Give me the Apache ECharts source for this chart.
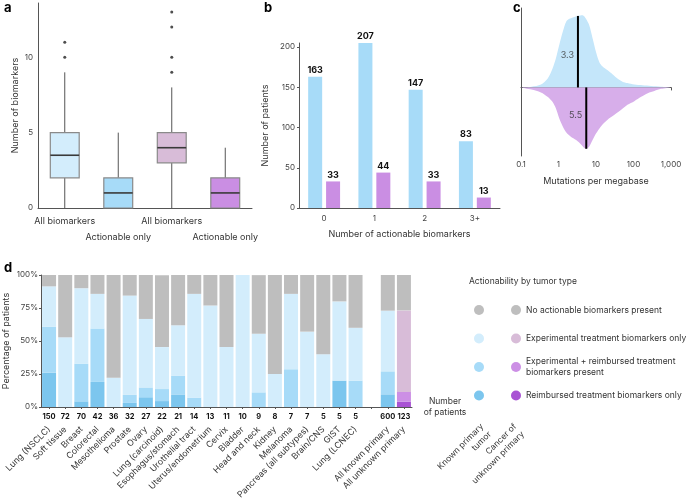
<!DOCTYPE html>
<html>
<head>
<meta charset="utf-8">
<script src="https://cdn.jsdelivr.net/npm/echarts@6/dist/echarts.min.js"></script>
<style>
  html, body { margin: 0; padding: 0; background: #fff; }
  #chart { width: 692px; height: 499px; }
</style>
</head>
<body>
<div id="chart"></div>
<script>
// a: biomarkers per patient, known primary vs cancer of unknown primary
const boxLabels = ['All biomarkers', 'Actionable only', 'All biomarkers', 'Actionable only']
// [min, q1, median, q3, max]
const boxStats = [
  [0, 2, 3.5, 5, 9],
  [0, 0, 1, 2, 5],
  [0, 3, 4, 5, 8],
  [0, 0, 1, 2, 4]
]
const boxOutliers = [[0, 10], [0, 11], [2, 9], [2, 10], [2, 12], [2, 13]]
const boxColors = ['#d3edfc', '#a7dbf8', '#d8bcd8', '#ca8ee3']

// b: patients by number of actionable biomarkers
const actionableGroups = ['0', '1', '2', '3+']
const knownPatients = [163, 207, 147, 83]
const unknownPatients = [33, 44, 33, 13]

// c: tumor mutational burden density
const tmbKnown = [0.1, 0.19, 0.34, 0.51, 0.69, 0.85, 1.05, 1.3, 1.6, 1.95, 2.4, 3.2, 4.4, 5.4, 6.6, 8.1, 10, 12.3, 15, 20, 28, 38, 51, 69, 105, 175, 295, 540, 1000]
const densityKnown = [0, 0.01, 0.04, 0.12, 0.26, 0.40, 0.59, 0.77, 0.91, 0.95, 0.97, 0.99, 1.0, 0.95, 0.86, 0.68, 0.49, 0.35, 0.29, 0.24, 0.18, 0.12, 0.08, 0.06, 0.04, 0.03, 0.02, 0.01, 0]
const tmbUnknown = [0.1, 0.19, 0.34, 0.51, 0.69, 0.85, 1.05, 1.3, 1.6, 2.1, 2.95, 4.0, 5.4, 6.6, 8.1, 10, 13.5, 20, 31, 47, 69, 105, 160, 240, 360, 540, 1000]
const densityUnknown = [0, 0.03, 0.07, 0.13, 0.20, 0.29, 0.43, 0.54, 0.62, 0.68, 0.73, 0.79, 0.85, 0.82, 0.73, 0.64, 0.54, 0.45, 0.38, 0.31, 0.24, 0.19, 0.13, 0.08, 0.05, 0.02, 0]
const tmbMedians = [3.3, 5.5]

// d: actionability by tumor type (% of patients)
const tumorTypes = ['Lung (NSCLC)', 'Soft tissue', 'Breast', 'Colorectal', 'Mesothelioma', 'Prostate', 'Ovary',
  'Lung (carcinoid)', 'Esophagus/stomach', 'Urothelial tract', 'Uterus/endometrium', 'Cervix', 'Bladder',
  'Head and neck', 'Kidney', 'Melanoma', 'Pancreas (all subtypes)', 'Brain/CNS', 'GIST', 'Lung (LCNEC)']
const tumorCounts = [150, 72, 70, 42, 36, 32, 27, 22, 21, 14, 13, 11, 10, 9, 8, 7, 7, 5, 5, 5]
const reimbursedOnly = [26, 0, 4.3, 19, 0, 3.1, 7.4, 4.5, 9.5, 0, 0, 0, 0, 0, 0, 0, 0, 0, 20, 0]
const expAndReimbursed = [34.7, 0, 28.6, 40.5, 0, 6.3, 7.4, 9.1, 14.3, 7.1, 0, 0, 0, 11.1, 0, 28.6, 0, 0, 0, 20]
const experimentalOnly = [30.7, 52.8, 57.1, 26.2, 22.2, 75, 51.9, 31.8, 38.1, 78.6, 76.9, 45.5, 100, 44.4, 25, 57.1, 57.1, 40, 60, 40]
const noActionable = [8.7, 47.2, 10, 14.3, 77.8, 15.6, 33.3, 54.5, 38.1, 14.3, 23.1, 54.5, 0, 44.4, 75, 14.3, 42.9, 60, 20, 40]
const pooledGroups = ['All known primary', 'All unknown primary']
const pooledCounts = [600, 123]
// reimbursed only, experimental + reimbursed, experimental only, none
const knownPrimaryShares = [9.6, 17.4, 46, 27]
const unknownPrimaryShares = [4.1, 7.3, 61.8, 26.8]
const legendNames = ['Reimbursed treatment biomarkers only', 'Experimental + reimbursed treatment biomarkers present',
  'Experimental treatment biomarkers only', 'No actionable biomarkers present']
const knownColors = ['#7cc6ee', '#a7dbf8', '#d3edfc', '#bebebe']
const unknownColors = ['#a953d4', '#cc8fe5', '#d8bcd8', '#bebebe']

const FONT = 'Inter, "Noto Sans", sans-serif'
const AX = '#555'
const TXT = '#333'

const chart = echarts.init(document.getElementById('chart'))

const categories = tumorTypes.concat([''], pooledGroups)
const countLabels = tumorCounts.concat([''], pooledCounts)
const knownSegs = [reimbursedOnly, expAndReimbursed, experimentalOnly, noActionable]

const stackSeries = []
knownSegs.forEach((seg, k) => {
  stackSeries.push({
    name: 'Known primary: ' + legendNames[k],
    type: 'bar', xAxisIndex: 3, yAxisIndex: 3, stack: 'd', barWidth: 14,
    itemStyle: { color: knownColors[k] },
    data: seg.concat(['-', knownPrimaryShares[k], '-'])
  })
})
unknownPrimaryShares.forEach((v, k) => {
  stackSeries.push({
    name: legendNames[k],
    type: 'bar', xAxisIndex: 3, yAxisIndex: 3, stack: 'd', barWidth: 14,
    itemStyle: { color: unknownColors[k] },
    data: tumorTypes.map(() => '-').concat(['-', '-', v])
  })
})

const legendOrder = [3, 2, 1, 0]
const axisBase = {
  nameMoveOverlap: false,
  axisLine: { lineStyle: { color: AX, width: 1 } },
  axisTick: { show: false },
  splitLine: { show: false },
  axisLabel: { color: '#444', fontFamily: FONT, fontSize: 8 },
  nameTextStyle: { color: TXT, fontFamily: FONT, fontSize: 9 }
}
const gridBase = { containLabel: false, outerBoundsMode: 'none' }

const option = {
  animation: false,
  textStyle: { fontFamily: FONT },
  title: [
    { text: 'a', left: -1, top: -3, textStyle: { fontSize: 13, fontWeight: 'bold', color: '#000', fontFamily: FONT } },
    { text: 'b', left: 259, top: -3, textStyle: { fontSize: 13, fontWeight: 'bold', color: '#000', fontFamily: FONT } },
    { text: 'c', left: 508, top: -3, textStyle: { fontSize: 13, fontWeight: 'bold', color: '#000', fontFamily: FONT } },
    { text: 'd', left: -1, top: 257, textStyle: { fontSize: 13, fontWeight: 'bold', color: '#000', fontFamily: FONT } },
    { text: 'Actionability by tumor type', left: 464, top: 272, textStyle: { fontSize: 8.5, fontWeight: 'normal', color: TXT, fontFamily: FONT } }
  ],
  legend: [
    {
      orient: 'vertical', left: 469, top: 293, icon: 'circle', itemWidth: 10, itemHeight: 10, itemGap: 4.5,
      selectedMode: false,
      formatter: () => ' ',
      textStyle: { fontSize: 8.5, lineHeight: 11, padding: [6.5, 0, 6.5, 0] },
      data: legendOrder.map(k => ({ name: 'Known primary: ' + legendNames[k] }))
    },
    {
      orient: 'vertical', left: 506, top: 293, icon: 'circle', itemWidth: 10, itemHeight: 10, itemGap: 4.5,
      selectedMode: false,
      formatter: name => name === legendNames[1] ? 'Experimental + reimbursed treatment\nbiomarkers present' : name,
      textStyle: { fontSize: 8.5, lineHeight: 11, color: TXT, fontFamily: FONT },
      data: legendOrder.map(k => ({
        name: legendNames[k],
        textStyle: { padding: k === 1 ? [1, 0, 1, 0] : [6.5, 0, 6.5, 0] }
      }))
    }
  ],
  graphic: [
    { type: 'text', x: 486, y: 429, rotation: Math.PI / 4,
      style: { text: 'Known primary\ntumor', align: 'right', verticalAlign: 'middle', font: '8.5px ' + FONT, fill: TXT, lineHeight: 11 } },
    { type: 'text', x: 519, y: 429, rotation: Math.PI / 4,
      style: { text: 'Cancer of\nunknown primary', align: 'right', verticalAlign: 'middle', font: '8.5px ' + FONT, fill: TXT, lineHeight: 11 } }
  ],
  grid: [
    Object.assign({ left: 38, top: 3, width: 214, height: 205 }, gridBase),
    Object.assign({ left: 299, top: 43, width: 201, height: 165 }, gridBase),
    Object.assign({ left: 521, top: 8, width: 150, height: 148 }, gridBase),
    Object.assign({ left: 41, top: 275, width: 371, height: 132 }, gridBase)
  ],
  xAxis: [
    Object.assign({}, axisBase, {
      gridIndex: 0, type: 'category', data: boxLabels,
      axisLabel: { color: TXT, fontFamily: FONT, fontSize: 9, margin: 5, lineHeight: 16, interval: 0,
        formatter: (v, i) => (i % 2 ? '\n' + v : v) }
    }),
    Object.assign({}, axisBase, {
      gridIndex: 1, type: 'category', data: actionableGroups,
      name: 'Number of actionable biomarkers', nameLocation: 'middle', nameGap: 22,
      axisLabel: { color: '#444', fontFamily: FONT, fontSize: 8, margin: 7 }
    }),
    Object.assign({}, axisBase, {
      gridIndex: 2, type: 'log', logBase: 10, min: 0.1, max: 1000,
      name: 'Mutations per megabase', nameLocation: 'middle', nameGap: 21,
      axisTick: { show: true, length: 3, lineStyle: { color: AX } },
      minorTick: { show: false },
      axisLabel: { color: '#444', fontFamily: FONT, fontSize: 8, margin: 5,
        formatter: v => (v >= 1000 ? '1,000' : String(+v.toPrecision(3))) }
    }),
    Object.assign({}, axisBase, {
      gridIndex: 3, type: 'category', data: categories,
      name: 'Number\nof patients', nameLocation: 'end', nameGap: 33,
      nameTextStyle: { color: TXT, fontFamily: FONT, fontSize: 8.5, align: 'center', verticalAlign: 'middle', lineHeight: 11 },
      axisTick: { show: true, length: 2, alignWithLabel: true, lineStyle: { color: AX } },
      axisLabel: { interval: 0, color: '#111', fontFamily: FONT, fontSize: 7.5, fontWeight: 'bold', margin: 6,
        formatter: (v, i) => String(countLabels[i]) }
    }),
    {
      gridIndex: 3, type: 'category', data: categories, position: 'bottom',
      axisLine: { show: false }, axisTick: { show: false }, splitLine: { show: false },
      axisLabel: { interval: 0, rotate: 45, color: TXT, fontFamily: FONT, fontSize: 8.7, margin: 21 }
    }
  ],
  yAxis: [
    Object.assign({}, axisBase, {
      gridIndex: 0, type: 'value', min: 0, max: 13.6, interval: 5,
      name: 'Number of biomarkers', nameLocation: 'middle', nameGap: 18.5,
      axisLine: { show: true, lineStyle: { color: AX } },
      axisLabel: { color: '#444', fontFamily: FONT, fontSize: 8, margin: 5, showMaxLabel: false }
    }),
    Object.assign({}, axisBase, {
      gridIndex: 1, type: 'value', min: 0, max: 205, interval: 50,
      name: 'Number of patients', nameLocation: 'middle', nameGap: 29.5,
      axisLine: { show: true, lineStyle: { color: AX } },
      axisTick: { show: true, length: 2, lineStyle: { color: AX } },
      axisLabel: { color: '#444', fontFamily: FONT, fontSize: 8, margin: 4, showMaxLabel: false }
    }),
    Object.assign({}, axisBase, {
      gridIndex: 2, type: 'value', min: -0.95, max: 1.1,
      axisLine: { show: true, lineStyle: { color: AX } },
      axisLabel: { show: false }
    }),
    Object.assign({}, axisBase, {
      gridIndex: 3, type: 'value', min: 0, max: 100, interval: 25,
      name: 'Percentage of patients', nameLocation: 'middle', nameGap: 30.5,
      axisLine: { show: true, lineStyle: { color: AX } },
      axisTick: { show: true, length: 2, lineStyle: { color: AX } },
      axisLabel: { color: '#444', fontFamily: FONT, fontSize: 8, margin: 3, formatter: '{value}%' }
    })
  ],
  series: [
    {
      type: 'custom', xAxisIndex: 0, yAxisIndex: 0,
      data: boxStats.map((s, i) => [i].concat(s)),
      renderItem: (params, api) => {
        const x = api.value(0)
        const lo = api.coord([x, api.value(1)])
        const q1 = api.coord([x, api.value(2)])
        const md = api.coord([x, api.value(3)])
        const q3 = api.coord([x, api.value(4)])
        const hi = api.coord([x, api.value(5)])
        const half = api.size([1, 0])[0] * 0.27
        const ws = { stroke: '#555', lineWidth: 1 }
        return {
          type: 'group',
          children: [
            { type: 'line', shape: { x1: lo[0], y1: lo[1], x2: q1[0], y2: q1[1] }, style: ws },
            { type: 'line', shape: { x1: q3[0], y1: q3[1], x2: hi[0], y2: hi[1] }, style: ws },
            { type: 'rect', shape: { x: q3[0] - half, y: q3[1], width: half * 2, height: q1[1] - q3[1] },
              style: { fill: boxColors[params.dataIndex], stroke: '#8a8a8a', lineWidth: 1.2 } },
            { type: 'line', shape: { x1: md[0] - half, y1: md[1], x2: md[0] + half, y2: md[1] },
              style: { stroke: '#3a3a3a', lineWidth: 1.6 } }
          ]
        }
      }
    },
    {
      type: 'scatter', xAxisIndex: 0, yAxisIndex: 0, symbolSize: 3,
      itemStyle: { color: '#222' }, data: boxOutliers
    },
    {
      type: 'bar', xAxisIndex: 1, yAxisIndex: 1, barWidth: 14, barGap: '28%',
      itemStyle: { color: '#a7dbf8' }, data: knownPatients,
      label: { show: true, position: 'top', distance: 2, color: '#111', fontWeight: 'bold', fontSize: 9, fontFamily: FONT }
    },
    {
      type: 'bar', xAxisIndex: 1, yAxisIndex: 1, barWidth: 14, barGap: '28%',
      itemStyle: { color: '#ca8ee3' }, data: unknownPatients,
      label: { show: true, position: 'top', distance: 2, color: '#111', fontWeight: 'bold', fontSize: 9, fontFamily: FONT }
    },
    {
      type: 'line', xAxisIndex: 2, yAxisIndex: 2, smooth: 0.3, symbol: 'none',
      lineStyle: { width: 0 }, areaStyle: { color: '#c4e6fa', opacity: 1 },
      data: tmbKnown.map((t, i) => [t, densityKnown[i]])
    },
    {
      type: 'line', xAxisIndex: 2, yAxisIndex: 2, smooth: 0.3, symbol: 'none',
      lineStyle: { width: 0 }, areaStyle: { color: '#d7aeea', opacity: 1 },
      data: tmbUnknown.map((t, i) => [t, -densityUnknown[i]])
    },
    {
      type: 'line', xAxisIndex: 2, yAxisIndex: 2, symbol: 'none',
      lineStyle: { color: '#000', width: 2 },
      data: [[tmbMedians[0], 0], [tmbMedians[0], 0.99]]
    },
    {
      type: 'line', xAxisIndex: 2, yAxisIndex: 2, symbol: 'none',
      lineStyle: { color: '#000', width: 2 },
      data: [[tmbMedians[1], 0], [tmbMedians[1], -0.85]]
    },
    {
      type: 'scatter', xAxisIndex: 2, yAxisIndex: 2, symbolSize: 2, z: 5,
      itemStyle: { color: 'rgba(0,0,0,0)' },
      label: { show: true, position: 'left', distance: 3, color: TXT, fontSize: 9, fontFamily: FONT,
        formatter: p => String(p.value[0]) },
      data: [[tmbMedians[0], 0.45], [tmbMedians[1], -0.39]]
    }
  ].concat(stackSeries)
}

chart.setOption(option)
</script>
</body>
</html>
